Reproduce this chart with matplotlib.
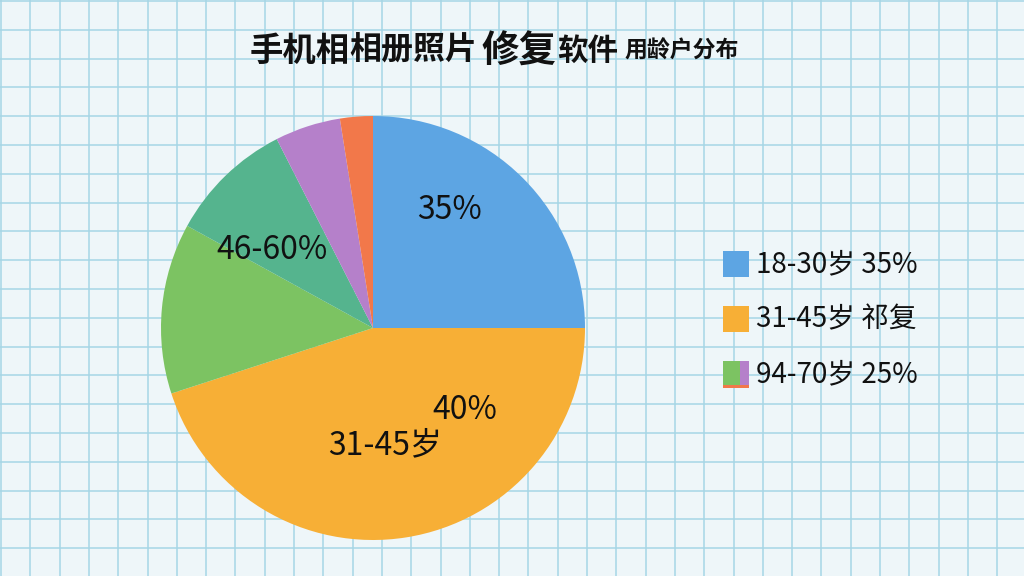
import numpy as np
import matplotlib
matplotlib.use('Agg')
import matplotlib.pyplot as plt
from matplotlib.patches import Rectangle

plt.rcParams['font.family'] = ['Noto Sans CJK SC', 'DejaVu Sans']

# Data (share of the pie, clockwise from 12 o'clock)
segments = ['18-30岁', '31-45岁', '46-60岁', '46-60岁 b', '61-70岁', '70岁以上']
shares = [25, 45, 13, 9.5, 5, 2.5]
colors = ['#5DA5E3', '#F7AF36', '#7CC362', '#55B48E', '#B580CA', '#F2784A']

# Labels drawn inside the pie (text, x, y in pie data units)
pie_labels = [('35%', 0.363, 0.557), ('40%', 0.434, -0.385),
              ('31-45岁', 0.057, -0.552), ('46-60%', -0.476, 0.368)]

legend_texts = ['18-30岁 35%', '31-45岁 祁复', '94-70岁 25%']

W, H = 1024, 576
fig = plt.figure(figsize=(W / 100, H / 100), dpi=100)
fig.patch.set_facecolor('#EEF6F9')

# Graph paper background
bg = fig.add_axes([0, 0, 1, 1])
bg.set_xlim(0, W)
bg.set_ylim(H, 0)
bg.set_facecolor('#EEF6F9')
for x in np.arange(1, W, 29.3):
    bg.axvline(x, color='#A6D6E6', lw=1.1, zorder=1)
for y in np.arange(1, H, 28.8):
    bg.axhline(y, color='#A6D6E6', lw=1.1, zorder=1)
bg.axis('off')

# Pie
cx, cy, r = 373, 328, 212
ax = fig.add_axes([(cx - r) / W, (H - cy - r) / H, 2 * r / W, 2 * r / H])
ax.pie(shares, colors=colors, startangle=90, counterclock=False, radius=1,
       wedgeprops={'linewidth': 0})
ax.set_xlim(-1, 1)
ax.set_ylim(-1, 1)
ax.set_aspect('equal')
for txt, x, y in pie_labels:
    ax.text(x, y, txt, ha='center', va='center', fontsize=23, color='#111111')

# Title, pieces of different sizes
title_parts = [('手机相', 250, 24, 'bold'), ('相册照片', 349, 23, 'bold'),
               ('修复', 481, 27, 'bold'), ('软件', 557, 22, 'bold'),
               ('用龄户分布', 624, 16.5, 'bold')]
for txt, x, size, weight in title_parts:
    fig.text(x / W, 1 - 51 / H, txt, ha='left', va='center', fontsize=size,
             fontweight=weight, color='#111111')

# Legend
leg_y = [264, 319, 374]
for i, (txt, y) in enumerate(zip(legend_texts, leg_y)):
    if i < 2:
        bg.add_patch(Rectangle((723, y - 13), 26, 26, color=colors[i], lw=0, zorder=3))
    else:
        bg.add_patch(Rectangle((723, y - 13), 17, 26, color=colors[2], lw=0, zorder=3))
        bg.add_patch(Rectangle((740, y - 13), 9, 26, color=colors[4], lw=0, zorder=3))
        bg.add_patch(Rectangle((723, y + 11), 26, 2.5, color=colors[5], lw=0, zorder=3))
    bg.text(756, y, txt, ha='left', va='center', fontsize=20, color='#111111', zorder=4)

fig.savefig('out.png', dpi=100, facecolor=fig.get_facecolor())
